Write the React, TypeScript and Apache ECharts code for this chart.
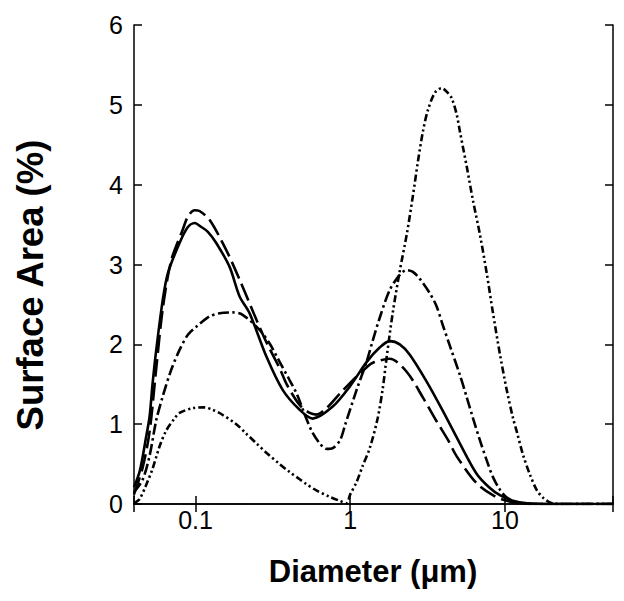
import React, { useEffect, useRef } from "react";
import * as echarts from "echarts";

// Solid curve
const solidDiameter = [0.04, 0.0434, 0.0454, 0.0475, 0.0504, 0.0527, 0.0557, 0.0614, 0.0662, 0.0788, 0.0892, 0.0985, 0.1089, 0.1201, 0.1361, 0.166, 0.1927, 0.2236, 0.2881, 0.3657, 0.4712, 0.572, 0.7707, 0.9926, 1.279, 1.55, 1.8, 2.09, 2.427, 3.127, 3.986, 5.11, 6.56, 8.0, 9.28, 11.27, 13.9, 20, 50];
const solidArea = [0.21, 0.4, 0.58, 0.8, 1.09, 1.5, 1.93, 2.56, 2.89, 3.27, 3.47, 3.52, 3.47, 3.41, 3.27, 2.97, 2.6, 2.39, 1.84, 1.43, 1.18, 1.07, 1.22, 1.47, 1.78, 1.96, 2.04, 2.0, 1.87, 1.53, 1.16, 0.76, 0.38, 0.2, 0.11, 0.04, 0.01, 0, 0];

// Long-dash curve
const longDashDiameter = [0.04, 0.0454, 0.0504, 0.0557, 0.0614, 0.0696, 0.0824, 0.0892, 0.0985, 0.1061, 0.1232, 0.158, 0.1927, 0.2472, 0.2881, 0.3497, 0.3882, 0.4712, 0.547, 0.6044, 0.7015, 0.855, 1.102, 1.274, 1.4, 1.8, 2.31, 2.96, 3.61, 4.295, 4.87, 6.56, 8.36, 10.3, 13, 20, 50];
const longDashArea = [0.12, 0.45, 0.9, 1.7, 2.45, 3.05, 3.43, 3.6, 3.68, 3.67, 3.56, 3.18, 2.81, 2.31, 2.02, 1.7, 1.5, 1.24, 1.14, 1.12, 1.2, 1.38, 1.6, 1.71, 1.77, 1.82, 1.66, 1.33, 1.04, 0.8, 0.6, 0.26, 0.11, 0.04, 0.005, 0, 0];

// Dash-dot curve
const dashDotDiameter = [0.04, 0.0454, 0.0504, 0.0557, 0.0614, 0.0696, 0.0788, 0.0892, 0.101, 0.1232, 0.143, 0.1736, 0.2015, 0.2596, 0.3013, 0.3497, 0.4059, 0.4536, 0.52, 0.572, 0.6348, 0.7015, 0.7707, 0.86, 0.93, 1.1, 1.27, 1.4, 1.55, 1.8, 2.09, 2.31, 2.53, 2.82, 3.27, 3.61, 4.0, 4.41, 5.11, 5.68, 6.21, 6.89, 7.65, 8.36, 9.28, 10.3, 12, 15, 50];
const dashDotArea = [0.15, 0.3, 0.6, 1.05, 1.35, 1.68, 1.93, 2.12, 2.22, 2.35, 2.39, 2.4, 2.37, 2.18, 2.01, 1.78, 1.55, 1.37, 1.07, 0.89, 0.76, 0.69, 0.7, 0.8, 1.0, 1.43, 1.77, 2.05, 2.33, 2.68, 2.87, 2.93, 2.91, 2.82, 2.64, 2.48, 2.22, 1.98, 1.62, 1.33, 1.08, 0.8, 0.54, 0.34, 0.18, 0.08, 0.02, 0, 0];

// Dash-dot-dot curve
const dashDotDotDiameter = [0.04, 0.0434, 0.0475, 0.0527, 0.0585, 0.0646, 0.0731, 0.0788, 0.0956, 0.1144, 0.1288, 0.143, 0.1834, 0.2129, 0.2472, 0.2881, 0.3497, 0.4059, 0.4712, 0.5207, 0.6044, 0.737, 0.855, 0.945, 1.0, 1.102, 1.205, 1.338, 1.507, 1.624, 1.723, 1.885, 2.091, 2.321, 2.538, 2.735, 2.947, 3.175, 3.523, 3.893, 4.277, 4.539, 4.891, 5.114, 5.675, 6.206, 6.89, 7.647, 8.362, 9.281, 10.3, 11.27, 11.96, 13.08, 14.51, 16.11, 17.62, 19.56, 22.7, 50];
const dashDotDotArea = [0.01, 0.06, 0.22, 0.44, 0.72, 0.92, 1.07, 1.14, 1.2, 1.21, 1.18, 1.14, 1.0, 0.88, 0.76, 0.64, 0.5, 0.4, 0.31, 0.25, 0.17, 0.09, 0.04, 0.01, 0.12, 0.28, 0.48, 0.7, 1.08, 1.45, 1.85, 2.4, 2.92, 3.38, 3.85, 4.28, 4.66, 4.93, 5.15, 5.21, 5.15, 5.08, 4.87, 4.67, 4.22, 3.81, 3.38, 2.88, 2.4, 1.88, 1.42, 1.08, 0.9, 0.62, 0.37, 0.17, 0.08, 0.02, 0, 0];

const xTickLabels = ["0.1", "1", "10"];
const xTitle = "Diameter (\u03bcm)";
const yTitle = "Surface Area (%)";

const FONT = "'Liberation Sans', Arial, Helvetica, sans-serif";

export default function App() {
  const ref = useRef<HTMLDivElement>(null);
  useEffect(() => {
    const chart = echarts.init(ref.current!, null, { renderer: "svg" });
    const pairs = (xs: number[], ys: number[]) => xs.map((x, i) => [x, ys[i]]);
    const mk = (name: string, xs: number[], ys: number[], type: any) => ({
      name,
      type: "line",
      data: pairs(xs, ys),
      showSymbol: false,
      symbol: "none",
      smooth: 0.3,
      xAxisIndex: 0,
      yAxisIndex: 0,
      lineStyle: { color: "#000", width: 2.6, type, cap: "butt" },
      emphasis: { disabled: true },
    });
    const logFmt = (v: number) => {
      const l = Math.log10(v);
      const r = Math.round(l);
      if (Math.abs(l - r) > 1e-6 || r < -1 || r > 1) return "";
      return xTickLabels[r + 1];
    };
    const axisLine = { lineStyle: { color: "#000", width: 1.5 } };
    const axisTick = { inside: true, length: 8, lineStyle: { color: "#000", width: 1.5 } };
    chart.setOption({
      animation: false,
      grid: { left: 134, right: 11, top: 25, bottom: 97 },
      xAxis: [
        {
          type: "log",
          logBase: 10,
          min: 0.04,
          max: 50,
          position: "bottom",
          axisLine,
          axisTick,
          axisLabel: { formatter: logFmt, color: "#000", fontSize: 25, fontFamily: FONT, margin: 3 },
          splitLine: { show: false },
          minorTick: { show: false },
        },
        {
          type: "log",
          logBase: 10,
          min: 0.04,
          max: 50,
          position: "top",
          axisLine,
          axisTick,
          axisLabel: { show: false },
          splitLine: { show: false },
        },
      ],
      yAxis: [
        {
          type: "value",
          min: 0,
          max: 6,
          interval: 1,
          position: "left",
          axisLine: { show: true, ...axisLine },
          axisTick: { show: true, ...axisTick },
          axisLabel: { color: "#000", fontSize: 25, fontFamily: FONT, margin: 11 },
          splitLine: { show: false },
        },
        {
          type: "value",
          min: 0,
          max: 6,
          interval: 1,
          position: "right",
          axisLine: { show: true, ...axisLine },
          axisTick: { show: true, ...axisTick },
          axisLabel: { show: false },
          splitLine: { show: false },
        },
      ],
      graphic: [
        {
          type: "text",
          x: 373,
          y: 571,
          style: { text: xTitle, fill: "#000", font: `bold 31px ${FONT}`, align: "center", verticalAlign: "middle" },
        },
        {
          type: "text",
          x: 30,
          y: 285,
          rotation: Math.PI / 2,
          style: { text: yTitle, fill: "#000", font: `bold 36.5px ${FONT}`, align: "center", verticalAlign: "middle" },
        },
      ],
      series: [
        mk("solid", solidDiameter, solidArea, "solid"),
        mk("long dash", longDashDiameter, longDashArea, [18, 6]),
        mk("dash dot", dashDotDiameter, dashDotArea, [11, 3.5, 2.5, 3.5]),
        mk("dash dot dot", dashDotDotDiameter, dashDotDotArea, [7, 3, 2.2, 3, 2.2, 3]),
      ],
    });
    return () => chart.dispose();
  }, []);
  return <div ref={ref} style={{ position: "absolute", left: 0, top: 0, width: 624, height: 601 }} />;
}
